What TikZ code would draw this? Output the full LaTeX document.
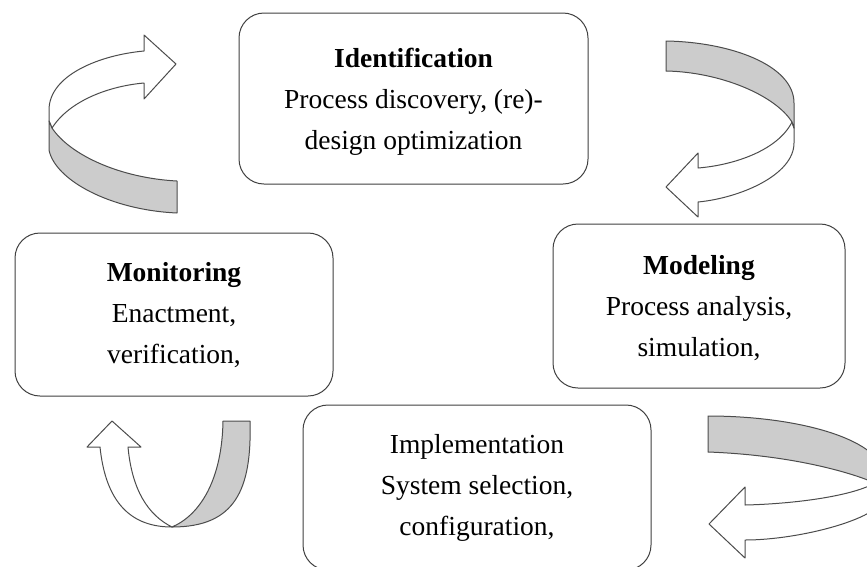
\documentclass[tikz,border=0pt]{standalone}
\usepackage{fontspec}
\setmainfont{Liberation Serif}
\tikzset{
  box/.style={draw=black!75, line width=1pt, rounded corners=25pt, fill=white},
  lbl/.style={align=center, font=\fontsize{27.5}{41}\selectfont, inner sep=0pt},
  ribbon/.style={draw=black!70, line width=1pt, line join=round},
  backside/.style={ribbon, fill=white},
  frontside/.style={ribbon, fill=gray!40}
}
\begin{document}
\begin{tikzpicture}[x=1pt,y=-1pt]
\useasboundingbox (0,0) rectangle (867,566);
\clip (0,0) rectangle (867,566);

% boxes
\node[box, minimum width=349pt, minimum height=171pt] (ident) at (413.5,98.5) {};
\node[box, minimum width=318pt, minimum height=163pt] (monit) at (174,314.5) {};
\node[box, minimum width=292pt, minimum height=164pt] (model) at (699,306) {};
\node[box, minimum width=348pt, minimum height=165pt] (impl) at (477,487.5) {};

% texts
\node[lbl] (identT) at ([yshift=-3.5pt]ident.center) {\textbf{Identification}\\Process discovery, (re)-\\design optimization};
\node[lbl] (monitT) at ([yshift=-1pt]monit.center) {\textbf{Monitoring}\\Enactment,\\verification,};
\node[lbl] (modelT) at ([yshift=-2.5pt]model.center) {\textbf{Modeling}\\Process analysis,\\simulation,};
\node[lbl] (implT) at ([yshift=0pt]impl.center) {Implementation\\System selection,\\configuration,};

% top-left curved arrow
\draw[backside] (49,110) .. controls (49,75) and (100,55) .. (144,51) -- (144,35) -- (176,64) -- (144,99) -- (144,83) .. controls (110,86) and (70,100) .. (52,128) -- (49,121) -- cycle;
\draw[frontside] (177,181) .. controls (120,178) and (70,155) .. (52,128) -- (49,121) -- (49,150) .. controls (55,180) and (110,210) .. (177,213) -- cycle;

% top-right curved arrow
\draw[backside] (794,128) -- (794,143) .. controls (794,175) and (740,198) .. (698,202) -- (698,217) -- (666,187) -- (698,153) -- (698,168) .. controls (735,165) and (778,150) .. (792,122) -- cycle;
\draw[frontside] (666,41) .. controls (730,42) and (794,65) .. (794,103) -- (794,128) -- (792,122) .. controls (775,95) and (720,72) .. (666,71) -- cycle;

% bottom-left curved arrow
\draw[backside] (100,447) .. controls (105,495) and (125,527) .. (172,527) .. controls (148,515) and (132,490) .. (128,447) -- (141,447) -- (112,421) -- (87,447) -- cycle;
\draw[frontside] (223,421) -- (250,421) .. controls (252,490) and (235,527) .. (172,527) .. controls (200,515) and (222,480) .. (223,421) -- cycle;

% bottom-right curved arrow
\draw[backside] (885,478) -- (885,495) .. controls (885,518) and (800,540) .. (745,540) -- (745,558) -- (709,524) -- (745,487) -- (745,505) .. controls (790,504) and (850,497) .. (875,483) -- cycle;
\draw[frontside] (708,416) .. controls (800,416) and (885,440) .. (885,478) -- (875,483) .. controls (850,472) and (790,455) .. (708,452) -- cycle;
\end{tikzpicture}
\end{document}
